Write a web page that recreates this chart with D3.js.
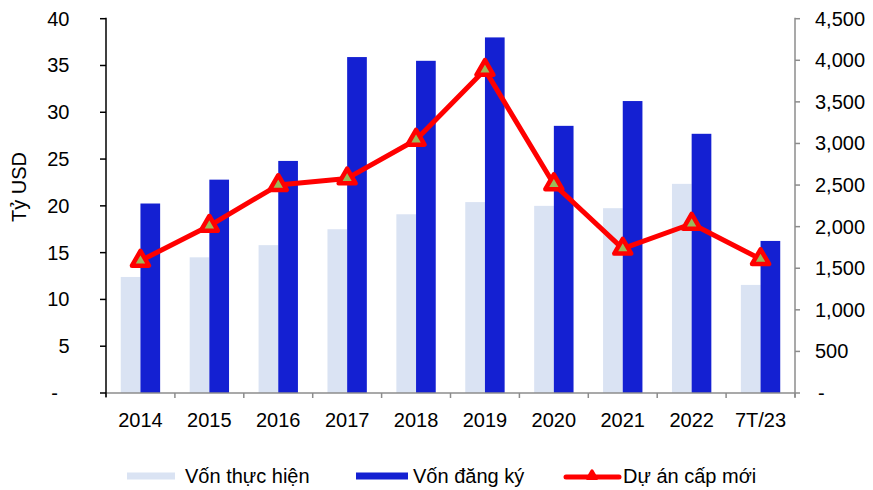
<!DOCTYPE html>
<html>
<head>
<meta charset="utf-8">
<script src="https://cdn.jsdelivr.net/npm/d3@7"></script>
<style>
  html, body { margin: 0; padding: 0; background: #fff; }
  svg { display: block; font-family: "Liberation Sans", Arial, sans-serif; }
</style>
</head>
<body>
<svg id="chart" width="873" height="490"></svg>
<script>
const categories = ["2014","2015","2016","2017","2018","2019","2020","2021","2022","7T/23"];
const vonThucHien = [12.4, 14.5, 15.8, 17.5, 19.1, 20.4, 20.0, 19.75, 22.35, 11.55];
const vonDangKy = [20.25, 22.8, 24.8, 35.9, 35.5, 38.0, 28.55, 31.2, 27.7, 16.25];
const duAnCapMoi = [1590, 2010, 2500, 2580, 3045, 3885, 2510, 1735, 2035, 1610];
const leftTicks = [0, 5, 10, 15, 20, 25, 30, 35, 40];
const rightTicks = [0, 500, 1000, 1500, 2000, 2500, 3000, 3500, 4000, 4500];
const seriesNames = ["Vốn thực hiện", "Vốn đăng ký", "Dự án cấp mới"];
const yTitle = "Tỷ USD";

(function () {
const colLight = "#DAE3F3", colDark = "#1420D2", colRed = "#FF0000", colMarker = "#9BBB59";
const svg = d3.select("#chart");
const pL = 106, pR = 795, pT = 18.7, pB = 393;
const fs = 20;

const x = d3.scaleBand().domain(categories).range([pL, pR]).paddingInner(0).paddingOuter(0);
const x1 = d3.scaleBand().domain(["a","b"]).range([0, x.bandwidth()]).paddingInner(0).paddingOuter(0.75);
const yL = d3.scaleLinear().domain([0, 40]).range([pB, pT]);
const yR = d3.scaleLinear().domain([0, 4500]).range([pB, pT]);

// bars
const g = svg.append("g");
g.selectAll("rect.light").data(vonThucHien).join("rect").attr("class", "light")
  .attr("x", (d,i) => x(categories[i]) + x1("a"))
  .attr("y", d => yL(d)).attr("width", x1.bandwidth()).attr("height", d => pB - yL(d))
  .attr("fill", colLight);
g.selectAll("rect.dark").data(vonDangKy).join("rect").attr("class", "dark")
  .attr("x", (d,i) => x(categories[i]) + x1("b"))
  .attr("y", d => yL(d)).attr("width", x1.bandwidth()).attr("height", d => pB - yL(d))
  .attr("fill", colDark);

// x axis
const xAxis = svg.append("g").attr("transform", `translate(0,${pB})`);
xAxis.append("line").attr("x1", pL - 1).attr("x2", pR).attr("y1", 0).attr("y2", 0)
  .attr("stroke", "#8c8c8c").attr("stroke-width", 1.5);
const boundaries = categories.map(c => x(c)).concat([pR]);
xAxis.selectAll("line.t").data(boundaries).join("line").attr("class", "t")
  .attr("x1", d => d).attr("x2", d => d).attr("y1", 0).attr("y2", 5)
  .attr("stroke", "#8c8c8c").attr("stroke-width", 1.5);
xAxis.selectAll("text").data(categories).join("text")
  .attr("x", d => x(d) + x.bandwidth()/2).attr("y", 34)
  .attr("text-anchor", "middle").attr("font-size", fs).attr("fill", "#000").text(d => d);

// left axis
const lAxis = svg.append("g");
lAxis.append("line").attr("x1", pL).attr("x2", pL).attr("y1", pT - 1).attr("y2", pB + 4)
  .attr("stroke", "#000").attr("stroke-width", 1.5);
lAxis.selectAll("line.t").data(leftTicks).join("line").attr("class", "t")
  .attr("x1", pL - 6).attr("x2", pL).attr("y1", d => yL(d)).attr("y2", d => yL(d))
  .attr("stroke", "#000").attr("stroke-width", 1.5);
lAxis.selectAll("text").data(leftTicks).join("text")
  .attr("x", d => d === 0 ? 58 : 69.5).attr("y", d => yL(d)).attr("dy", "0.35em")
  .attr("text-anchor", "end").attr("font-size", fs).attr("fill", "#000")
  .text(d => d === 0 ? "-" : d3.format(",")(d));

// right axis
const rAxis = svg.append("g");
rAxis.append("line").attr("x1", pR).attr("x2", pR).attr("y1", pT - 1).attr("y2", pB + 4)
  .attr("stroke", "#8c8c8c").attr("stroke-width", 1.5);
rAxis.selectAll("line.t").data(rightTicks).join("line").attr("class", "t")
  .attr("x1", pR).attr("x2", pR + 5).attr("y1", d => yR(d)).attr("y2", d => yR(d))
  .attr("stroke", "#8c8c8c").attr("stroke-width", 1.5);
rAxis.selectAll("text").data(rightTicks).join("text")
  .attr("x", d => d === 0 ? 818 : 815).attr("y", d => yR(d)).attr("dy", "0.35em")
  .attr("text-anchor", "start").attr("font-size", fs).attr("fill", "#000")
  .text(d => d === 0 ? "-" : d3.format(",")(d));

// y title
svg.append("text").attr("transform", "translate(26,187) rotate(-90)")
  .attr("text-anchor", "middle").attr("font-size", fs).attr("fill", "#000").text(yTitle);

// line
const line = d3.line().x((d,i) => x(categories[i]) + x.bandwidth()/2).y(d => yR(d));
svg.append("path").datum(duAnCapMoi).attr("d", line)
  .attr("fill", "none").attr("stroke", colRed).attr("stroke-width", 5).attr("stroke-linejoin", "round");

function tri(s) {
  const h = s * Math.sqrt(3) / 2;
  return `M0,${-2*h/3}L${s/2},${h/3}L${-s/2},${h/3}Z`;
}
svg.selectAll("path.m").data(duAnCapMoi).join("path").attr("class", "m")
  .attr("transform", (d,i) => `translate(${x(categories[i]) + x.bandwidth()/2},${yR(d)})`)
  .attr("d", tri(17)).attr("fill", colMarker).attr("stroke", colRed).attr("stroke-width", 4.5)
  .attr("stroke-linejoin", "round");

// legend
const lg = svg.append("g");
lg.append("rect").attr("x", 127).attr("y", 472.5).attr("width", 48).attr("height", 7).attr("fill", colLight);
lg.append("text").attr("x", 185).attr("y", 483).attr("font-size", fs).attr("fill", "#000").text(seriesNames[0]);
lg.append("rect").attr("x", 356).attr("y", 472.5).attr("width", 52).attr("height", 7).attr("fill", colDark);
lg.append("text").attr("x", 413).attr("y", 483).attr("font-size", fs).attr("fill", "#000").text(seriesNames[1]);
lg.append("line").attr("x1", 566).attr("x2", 619).attr("y1", 477).attr("y2", 477)
  .attr("stroke", colRed).attr("stroke-width", 5).attr("stroke-linecap", "round");
lg.append("path").attr("transform", "translate(592,476)").attr("d", tri(9))
  .attr("fill", colRed).attr("stroke", colRed).attr("stroke-width", 3).attr("stroke-linejoin", "round");
lg.append("text").attr("x", 623).attr("y", 483).attr("font-size", fs).attr("fill", "#000").text(seriesNames[2]);
})();
</script>
</body>
</html>
